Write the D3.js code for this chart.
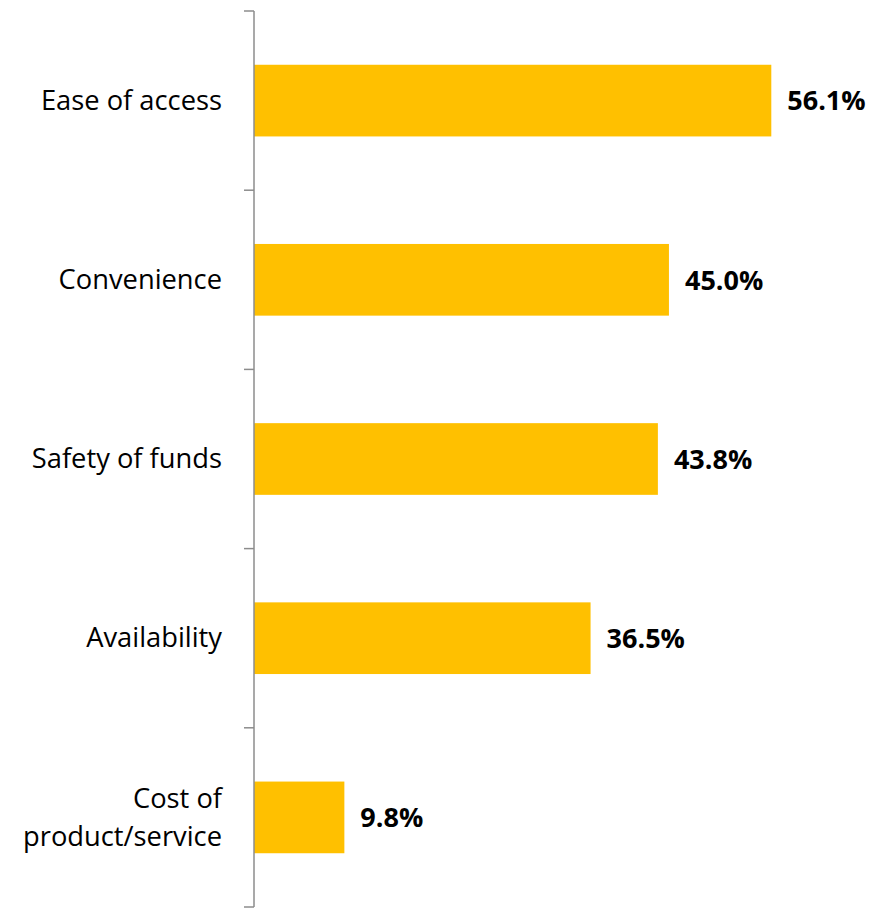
<!DOCTYPE html>
<html>
<head>
<meta charset="utf-8">
<script src="https://cdn.jsdelivr.net/npm/d3@7"></script>
<style>
  html, body { margin: 0; padding: 0; background: #fff; }
  svg { display: block; }
</style>
</head>
<body>
<svg id="chart" width="891" height="910"></svg>
<script>
// Reasons given, share of respondents (%)
const categories = [
  "Ease of access",
  "Convenience",
  "Safety of funds",
  "Availability",
  "Cost of product/service"
];
const values = [56.1, 45.0, 43.8, 36.5, 9.8];
const valueLabels = ["56.1%", "45.0%", "43.8%", "36.5%", "9.8%"];
// Category names broken across lines where needed
const categoryLines = [
  ["Ease of access"],
  ["Convenience"],
  ["Safety of funds"],
  ["Availability"],
  ["Cost of", "product/service"]
];

const svg = d3.select("#chart");
const margin = { top: 11, left: 254, bottom: 3, right: 0 };
const plotH = 907 - margin.top;

const y = d3.scaleBand()
  .domain(categories)
  .range([margin.top, margin.top + plotH])
  .paddingInner(0.6)
  .paddingOuter(0.3);

// Band boundaries for the tick marks between categories
const yEdge = d3.scaleLinear()
  .domain([0, categories.length])
  .range([margin.top, margin.top + plotH]);

const x = d3.scaleLinear()
  .domain([0, 56.1])
  .range([margin.left, 771.3]);

const fontFamily = "'Open Sans', Lato, sans-serif";
const catSize = 27.3;
const valSize = 27;

// Bars
svg.append("g").selectAll("rect")
  .data(values)
  .join("rect")
  .attr("x", x(0))
  .attr("y", (d, i) => y(categories[i]))
  .attr("width", d => x(d) - x(0))
  .attr("height", y.bandwidth())
  .attr("fill", "#FFC000");

// Value labels
svg.append("g").selectAll("text")
  .data(values)
  .join("text")
  .attr("x", d => x(d) + 16)
  .attr("y", (d, i) => y(categories[i]) + y.bandwidth() / 2)
  .attr("dy", "0.36em")
  .attr("font-family", fontFamily)
  .attr("font-weight", "bold")
  .attr("font-size", valSize)
  .attr("fill", "#000")
  .text((d, i) => valueLabels[i]);

// Vertical axis with ticks on band edges
const axis = svg.append("g").attr("stroke", "#8c8c8c").attr("stroke-width", 1.5);
axis.append("line")
  .attr("x1", margin.left).attr("x2", margin.left)
  .attr("y1", yEdge(0)).attr("y2", yEdge(categories.length));
axis.selectAll("line.tick")
  .data(d3.range(categories.length + 1))
  .join("line")
  .attr("class", "tick")
  .attr("x1", margin.left - 10).attr("x2", margin.left)
  .attr("y1", d => yEdge(d)).attr("y2", d => yEdge(d));

// Category labels
const lineH = 38;
const labels = svg.append("g")
  .attr("font-family", fontFamily)
  .attr("font-size", catSize)
  .attr("fill", "#000")
  .attr("text-anchor", "end");
labels.selectAll("text")
  .data(categories)
  .join("text")
  .attr("x", margin.left - 32)
  .attr("y", d => y(d) + y.bandwidth() / 2)
  .each(function (d, i) {
    const lines = categoryLines[i];
    const t = d3.select(this);
    lines.forEach((ln, j) => {
      t.append("tspan")
        .attr("x", margin.left - 32)
        .attr("dy", j === 0 ? ((-(lines.length - 1) / 2) * lineH / catSize + 0.34) + "em" : (lineH / catSize) + "em")
        .text(ln);
    });
  });
</script>
</body>
</html>
